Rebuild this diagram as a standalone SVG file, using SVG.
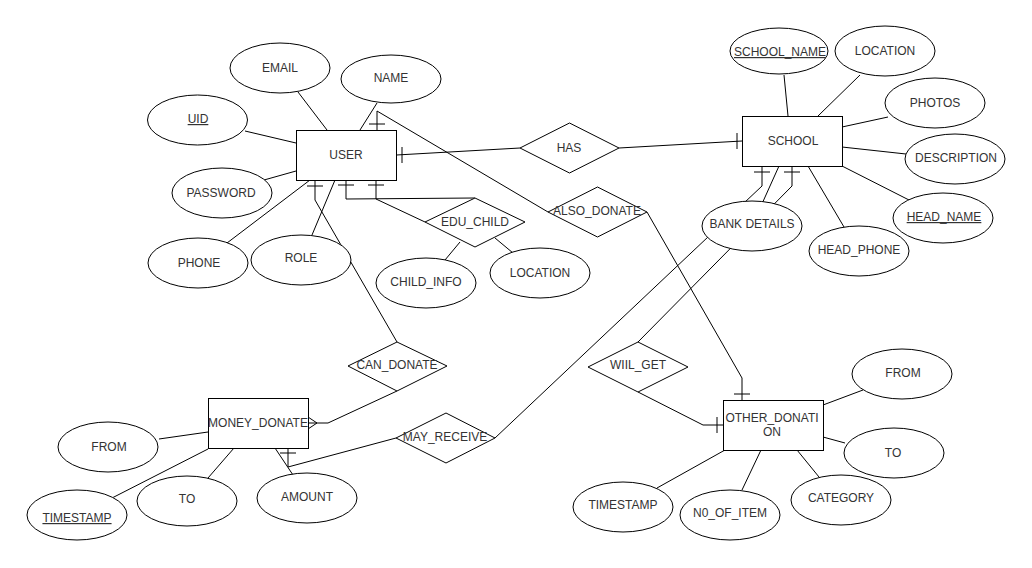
<svg xmlns="http://www.w3.org/2000/svg" width="1032" height="568" viewBox="0 0 1032 568">
<style>
.c{fill:none;stroke:#000;stroke-width:1}
.n{fill:#fff;stroke:#000;stroke-width:1}
.t{font-family:"Liberation Sans",Arial,sans-serif;font-size:12px;fill:#333;text-anchor:middle}
.u{text-decoration:underline}
</style>
<rect width="1032" height="568" fill="#fff"/>
<g id="connectors">
<!-- USER attributes -->
<line class="c" x1="298" y1="92" x2="327" y2="130"/>
<line class="c" x1="377" y1="103" x2="360" y2="130"/>
<line class="c" x1="245" y1="131" x2="296" y2="143"/>
<line class="c" x1="264" y1="180" x2="296" y2="171"/>
<line class="c" x1="227" y1="243" x2="310" y2="180"/>
<line class="c" x1="312" y1="235" x2="335" y2="180"/>
<!-- USER - HAS - SCHOOL -->
<polyline class="c" points="396.5,155 520,148"/>
<line class="c" x1="402" y1="147" x2="402" y2="163"/>
<polyline class="c" points="619,148 742,141"/>
<line class="c" x1="737" y1="133" x2="737" y2="149"/>
<!-- USER - ALSO_DONATE - OTHER_DONATION -->
<polyline class="c" points="377,130 377,111 548,212"/>
<line class="c" x1="369" y1="124" x2="385" y2="124"/>
<polyline class="c" points="647,212 742,378 742,400"/>
<line class="c" x1="734" y1="394" x2="750" y2="394"/>
<!-- USER - EDU_CHILD -->
<polyline class="c" points="346,180 346,199 475,198"/>
<line class="c" x1="338" y1="185" x2="354" y2="185"/>
<polyline class="c" points="376,180 376,199 425,222"/>
<line class="c" x1="368" y1="185" x2="384" y2="185"/>
<line class="c" x1="460" y1="242" x2="445" y2="260"/>
<line class="c" x1="495" y1="238" x2="513" y2="253"/>
<!-- USER - CAN_DONATE - MONEY_DONATE -->
<polyline class="c" points="315,180 315,200 397,342"/>
<line class="c" x1="307" y1="186" x2="323" y2="186"/>
<polyline class="c" points="397,391 328,423 317,423"/>
<polyline class="c" points="308,417 317,423 308,429"/>
<line class="c" x1="308" y1="423" x2="317" y2="423"/>
<!-- MONEY_DONATE - MAY_RECEIVE - SCHOOL -->
<polyline class="c" points="288,448 288,467 396,438"/>
<line class="c" x1="280" y1="453" x2="296" y2="453"/>
<polyline class="c" points="495,438 762,186 762,166"/>
<line class="c" x1="754" y1="172" x2="770" y2="172"/>
<!-- SCHOOL - WIIL_GET - OTHER_DONATION -->
<polyline class="c" points="638,342 792,186 792,166"/>
<line class="c" x1="784" y1="172" x2="800" y2="172"/>
<polyline class="c" points="638,392 703,425 723,425"/>
<line class="c" x1="717" y1="417" x2="717" y2="433"/>
<!-- SCHOOL attributes -->
<line class="c" x1="779" y1="166" x2="752" y2="226"/>
<line class="c" x1="784" y1="75" x2="788" y2="116"/>
<line class="c" x1="860" y1="75" x2="818" y2="116"/>
<line class="c" x1="888" y1="117" x2="842" y2="127"/>
<line class="c" x1="906" y1="154" x2="842" y2="147"/>
<line class="c" x1="909" y1="200" x2="842" y2="166"/>
<line class="c" x1="844" y1="227" x2="808" y2="166"/>
<!-- MONEY_DONATE attributes -->
<line class="c" x1="159" y1="439" x2="208" y2="432"/>
<line class="c" x1="112" y1="498" x2="208" y2="449"/>
<line class="c" x1="208" y1="478" x2="234" y2="448"/>
<line class="c" x1="275" y1="448" x2="293" y2="475"/>
<!-- OTHER_DONATION attributes -->
<line class="c" x1="863" y1="390" x2="823" y2="405"/>
<line class="c" x1="845" y1="443" x2="823" y2="437"/>
<line class="c" x1="819" y1="477" x2="797" y2="450"/>
<line class="c" x1="742" y1="490" x2="761" y2="450"/>
<line class="c" x1="657" y1="488" x2="725" y2="450"/>
</g>
<g id="user"><rect class="n" x="296.5" y="130.5" width="100" height="50"/><text class="t" x="346" y="159">USER</text></g>
<g id="user-email"><ellipse class="n" cx="280" cy="68" rx="50" ry="25"/><text class="t" x="280" y="72">EMAIL</text></g>
<g id="user-name"><ellipse class="n" cx="391" cy="79" rx="50" ry="24"/><text class="t" x="391" y="82">NAME</text></g>
<g id="user-uid"><ellipse class="n" cx="197.5" cy="120" rx="50" ry="25"/><text class="t u" x="198" y="123">UID</text></g>
<g id="user-password"><ellipse class="n" cx="222" cy="193" rx="50" ry="25"/><text class="t" x="221" y="197">PASSWORD</text></g>
<g id="user-phone"><ellipse class="n" cx="198" cy="263" rx="50" ry="25"/><text class="t" x="199" y="267">PHONE</text></g>
<g id="user-role"><ellipse class="n" cx="301" cy="260" rx="50" ry="25"/><text class="t" x="301" y="262">ROLE</text></g>
<g id="has"><polygon class="n" points="520,148 569.5,123 619,148 569.5,173"/><text class="t" x="569" y="152">HAS</text></g>
<g id="also-donate"><polygon class="n" points="548,212 597.5,187 647,212 597.5,237"/><text class="t" x="597" y="215">ALSO_DONATE</text></g>
<g id="edu-child"><polygon class="n" points="425,222 475,198 525,222 475,247"/><text class="t" x="475" y="226">EDU_CHILD</text></g>
<g id="edu-child-info"><ellipse class="n" cx="426" cy="283" rx="50" ry="25"/><text class="t" x="426" y="286">CHILD_INFO</text></g>
<g id="edu-location"><ellipse class="n" cx="540" cy="273" rx="50" ry="25"/><text class="t" x="540" y="277">LOCATION</text></g>
<g id="school"><rect class="n" x="742.5" y="116.5" width="100" height="50"/><text class="t" x="793" y="145">SCHOOL</text></g>
<g id="school-name"><ellipse class="n" cx="779" cy="51" rx="49" ry="23"/><text class="t u" x="780" y="56">SCHOOL_NAME</text></g>
<g id="school-location"><ellipse class="n" cx="885" cy="51" rx="50" ry="25"/><text class="t" x="885" y="55">LOCATION</text></g>
<g id="school-photos"><ellipse class="n" cx="935" cy="103" rx="50" ry="25"/><text class="t" x="935" y="107">PHOTOS</text></g>
<g id="school-description"><ellipse class="n" cx="955" cy="159" rx="50" ry="25"/><text class="t" x="956" y="162">DESCRIPTION</text></g>
<g id="school-head-name"><ellipse class="n" cx="943" cy="218" rx="50" ry="25"/><text class="t u" x="944" y="221">HEAD_NAME</text></g>
<g id="school-head-phone"><ellipse class="n" cx="859" cy="251" rx="50" ry="25"/><text class="t" x="859" y="254">HEAD_PHONE</text></g>
<g id="school-bank-details"><ellipse class="n" cx="752" cy="226" rx="50" ry="25"/><text class="t" x="752" y="228">BANK DETAILS</text></g>
<g id="can-donate"><polygon class="n" points="348,366 397,342 447,366 397,391"/><text class="t" x="397" y="369">CAN_DONATE</text></g>
<g id="may-receive"><polygon class="n" points="396,438 446,413 495,438 446,463"/><text class="t" x="445" y="441">MAY_RECEIVE</text></g>
<g id="wiil-get"><polygon class="n" points="588,367 638,342 688,367 638,392"/><text class="t" x="638" y="369">WIIL_GET</text></g>
<g id="money-donate"><rect class="n" x="208.5" y="398.5" width="100" height="50"/><text class="t" x="258" y="427">MONEY_DONATE</text></g>
<g id="money-from"><ellipse class="n" cx="108" cy="447" rx="50" ry="25"/><text class="t" x="109" y="451">FROM</text></g>
<g id="money-to"><ellipse class="n" cx="187" cy="501" rx="50" ry="25"/><text class="t" x="187" y="503">TO</text></g>
<g id="money-timestamp"><ellipse class="n" cx="77" cy="515" rx="50" ry="25"/><text class="t u" x="77" y="522">TIMESTAMP</text></g>
<g id="money-amount"><ellipse class="n" cx="307" cy="498" rx="50" ry="25"/><text class="t" x="307" y="501">AMOUNT</text></g>
<g id="other-donation"><rect class="n" x="723.5" y="400.5" width="100" height="50"/><text class="t" x="772" y="422">OTHER_DONATI</text><text class="t" x="772" y="436">ON</text></g>
<g id="other-from"><ellipse class="n" cx="902" cy="374" rx="50" ry="25"/><text class="t" x="903" y="377">FROM</text></g>
<g id="other-to"><ellipse class="n" cx="894" cy="453" rx="50" ry="25"/><text class="t" x="893" y="457">TO</text></g>
<g id="other-category"><ellipse class="n" cx="841" cy="500" rx="50" ry="25"/><text class="t" x="841" y="502">CATEGORY</text></g>
<g id="other-no-of-item"><ellipse class="n" cx="730" cy="515" rx="50" ry="25"/><text class="t" x="730" y="517">N0_OF_ITEM</text></g>
<g id="other-timestamp"><ellipse class="n" cx="623" cy="507" rx="50" ry="25"/><text class="t" x="623" y="509">TIMESTAMP</text></g>
</svg>
